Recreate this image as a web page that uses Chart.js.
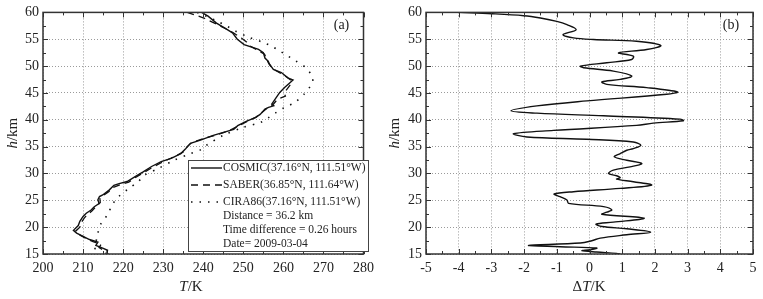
<!DOCTYPE html>
<html lang="en">
<head>
  <meta charset="UTF-8">
  <title>COSMIC / SABER / CIRA86 temperature profiles</title>
  <script src="https://cdn.jsdelivr.net/npm/chart.js"></script>
  <style>
    body { margin: 0; background: #fff; }
    .wrap { position: relative; width: 763px; height: 299px; }
    #chartA { position: absolute; left: 0; top: 0; }
    #chartB { position: absolute; left: 380px; top: 0; }
  </style>
</head>
<body>
  <div class="wrap">
    <canvas id="chartA" width="380" height="299"></canvas>
    <canvas id="chartB" width="383" height="299"></canvas>
  </div>

  <script>
    // panel (a): temperature profiles, height in km / temperature in K
    const hCosmic = [60, 59.3, 58, 57.1, 56.2, 55, 54, 53.1, 52.5, 51.5, 50.9, 50.3, 49.4, 48.8, 47.8, 47.4, 46.8, 46, 45.1, 43.8, 42.9, 42.6, 42.3, 42, 41, 40.4, 39.8, 38.9, 38.2, 37.1, 36.2, 35.6, 34.6, 33.7, 32.8, 32.2, 31.3, 30.3, 29.4, 28.5, 28.1, 27.8, 26.9, 26, 25.7, 25.1, 24.4, 23.8, 23.2, 22.6, 22, 21.1, 20.3, 19.4, 18.9, 18.3, 17.7, 17.2, 16.6, 16.1, 15.7, 15.2, 15];
    const tCosmic = [239.6, 241.2, 243.3, 245.3, 247.3, 248.5, 250.2, 253.8, 255, 255.4, 256.2, 256.6, 257.5, 259.5, 261.1, 262.4, 261.5, 260.3, 259.1, 257.9, 257.1, 257.6, 256.3, 255.4, 254.2, 253, 251, 248.6, 247.6, 242.5, 239.3, 236.8, 235.6, 234.4, 232, 229.5, 227.1, 225, 223, 221, 219, 217.7, 216.5, 214.9, 214.1, 213.7, 214, 212.8, 212, 210.8, 210, 209.2, 208.8, 207.6, 208.4, 210, 211.6, 213.7, 213.2, 214.9, 216.1, 216, 216.3];

    const hSaber = [60, 59.5, 59, 58, 57, 56.2, 55.2, 54.5, 53.8, 53, 52.2, 51.3, 50.4, 49.5, 48.6, 48, 47.4, 46.8, 46, 45, 44.4, 43.8, 42.8, 42.2, 41.2, 40.5, 39.8, 38.8, 38, 37.2, 36.5, 35.8, 35, 34, 33.4, 32.6, 32, 31.2, 30.2, 29.3, 28.4, 27.9, 27.4, 26.6, 25.9, 25.3, 24.6, 23.8, 23, 22.3, 21.6, 20.8, 20, 19.3, 18.7, 18, 17.3, 16.8, 16.2, 15.6, 15];
    const tSaber = [236, 238, 240, 242.8, 245.5, 247.5, 249.6, 250.8, 251.5, 253.5, 255.3, 255.8, 256.4, 257.3, 259.4, 260.8, 261.8, 262, 261.2, 260.2, 260.5, 258.5, 257.4, 256, 254.4, 253.2, 251.2, 248.6, 246.5, 243.5, 240, 237.2, 236, 235, 233.5, 231.2, 229.5, 227.5, 225.2, 223.2, 221.4, 219.2, 217.5, 216.4, 215, 214.2, 214.3, 213.2, 212.2, 211, 210.2, 209.5, 209.2, 208.2, 208.8, 210.5, 212.5, 214.5, 214, 215.4, 215.8];

    const hCira = [60, 59.2, 58.3, 57.4, 56.5, 55.5, 54.4, 53.7, 52.8, 51.9, 50.9, 49.7, 48.1, 47, 46.3, 44.8, 43.2, 42.3, 41.4, 40.4, 39.5, 38.6, 37.1, 35.3, 34.4, 33.7, 32.5, 30.9, 29.7, 28.5, 27.2, 25.7, 24.2, 22.3, 20.7, 18.9, 17.1, 15];
    const tCira = [238.5, 241, 243.7, 246, 248.1, 251, 255, 257.1, 259.1, 261.1, 263.2, 265.6, 267.2, 267.3, 266.8, 265.2, 262.8, 260.3, 258.3, 256.3, 254.3, 250, 245, 240.9, 239.3, 236.8, 232.8, 228.7, 225.4, 223.8, 221.4, 218.9, 217.3, 216.1, 214.5, 213.7, 213.2, 212.8];

    // panel (b): temperature difference
    const hDiff = [60, 59.75, 59.38, 58.95, 58.33, 57.72, 56.79, 55.86, 55.25, 54.94, 54.63, 53.83, 53.09, 52.47, 51.85, 51.23, 50.62, 50, 49.69, 49.07, 48.15, 47.53, 47.04, 46.6, 45.99, 45.19, 44.75, 43.52, 42.59, 41.67, 41.23, 40.74, 40.12, 39.81, 39.38, 38.95, 38.02, 37.41, 36.79, 36.36, 35.86, 35.25, 34.63, 34.32, 33.7, 33.09, 32.47, 31.85, 31.23, 30.62, 30, 29.57, 29.2, 28.95, 28.46, 27.84, 27.22, 26.6, 26.17, 25.68, 25.06, 24.44, 23.83, 23.21, 22.78, 22.41, 21.67, 20.93, 20.56, 20.12, 19.69, 19.07, 18.58, 17.96, 17.47, 17.04, 16.6, 16.36, 16.11, 15.8, 15.62, 15.37, 15.12, 15];
    const dT = [-4, -2.98, -2.01, -1.5, -1, -0.69, -0.41, -0.81, -0.49, 0.12, 1.44, 2.18, 1.75, 0.89, 1.34, 1.29, 0.53, -0.28, -0.18, 0.73, 1.29, 0.94, 0.38, 0.53, 1.75, 2.69, 2.36, -0.08, -1.61, -2.4, -1.61, 0.43, 2.77, 2.87, 1.95, 1.44, -1.1, -2.32, -1.91, -0.08, 1.34, 1.57, 1.34, 1.14, 0.94, 0.76, 1.14, 1.6, 1.24, 0.73, 0.58, 0.83, 0.94, 0.83, 1.34, 1.9, 0.94, -0.49, -1.08, -0.9, -0.69, -0.64, 0.43, 0.68, 0.53, 0.38, 1.67, 0.73, 0.2, 0.38, 1.14, 1.87, 1.14, 0.33, 0.07, -0.28, -1.86, -0.9, 0.22, 0.02, -0.23, 0.22, 0.83, 0.94];

    const legendLines = [
      'COSMIC(37.16°N, 111.51°W)',
      'SABER(36.85°N, 111.64°W)',
      'CIRA86(37.16°N, 111.51°W)'
    ];
    const legendNotes = ['Distance = 36.2 km', 'Time difference = 0.26 hours', 'Date= 2009-03-04'];

    const SERIF = '"Liberation Serif", "DejaVu Serif", serif';

    function pts(xs, ys) {
      return xs.map((v, i) => ({ x: v, y: ys[i] }));
    }

    // draws frame, inward ticks, axis titles, panel letter (and legend for panel a)
    function framePlugin(cfg) {
      return {
        id: 'frame',
        afterDraw(chart) {
          const ctx = chart.ctx;
          const a = chart.chartArea;
          const xs = chart.scales.x, ys = chart.scales.y;
          ctx.save();
          ctx.strokeStyle = '#333';
          ctx.lineWidth = 1;
          // ticks
          ctx.beginPath();
          for (let v = xs.min; v <= xs.max + 1e-9; v += cfg.xMinor) {
            const px = Math.round(xs.getPixelForValue(v)) + 0.5;
            const major = Math.abs(v / cfg.xMajor - Math.round(v / cfg.xMajor)) < 1e-6;
            const len = major ? 5 : 3;
            ctx.moveTo(px, a.bottom); ctx.lineTo(px, a.bottom - len);
            ctx.moveTo(px, a.top); ctx.lineTo(px, a.top + len);
          }
          for (let v = ys.min; v <= ys.max + 1e-9; v += 2.5) {
            const py = Math.round(ys.getPixelForValue(v)) + 0.5;
            const len = (v % 5 === 0) ? 5 : 3;
            ctx.moveTo(a.left, py); ctx.lineTo(a.left + len, py);
            ctx.moveTo(a.right, py); ctx.lineTo(a.right - len, py);
          }
          ctx.stroke();
          // frame
          ctx.lineWidth = 1.5;
          ctx.strokeRect(a.left, a.top, a.right - a.left, a.bottom - a.top);

          ctx.fillStyle = '#222';
          ctx.textBaseline = 'middle';
          // x title (italic variable + unit)
          const drawMixed = (parts, cx, cy) => {
            let w = 0;
            parts.forEach(p => { ctx.font = p[1] + ' 15px ' + SERIF; w += ctx.measureText(p[0]).width; });
            let x = cx - w / 2;
            ctx.textAlign = 'left';
            parts.forEach(p => {
              ctx.font = p[1] + ' 15px ' + SERIF;
              ctx.fillText(p[0], x, cy);
              x += ctx.measureText(p[0]).width;
            });
          };
          drawMixed(cfg.xTitle, cfg.xTitleX, 287);
          ctx.save();
          ctx.translate(cfg.yTitleX, (a.top + a.bottom) / 2);
          ctx.rotate(-Math.PI / 2);
          drawMixed([['h', 'italic'], ['/km', 'normal']], 0, 0);
          ctx.restore();

          // panel letter
          ctx.font = '14px ' + SERIF;
          ctx.textAlign = 'center';
          ctx.fillText(cfg.letter, a.right - 22, 25);

          if (cfg.legend) {
            const bx = 188, by = 160, bw = 180, bh = 91;
            ctx.fillStyle = '#fff';
            ctx.fillRect(bx, by, bw, bh);
            ctx.lineWidth = 1;
            ctx.strokeStyle = '#444';
            ctx.strokeRect(bx + 0.5, by + 0.5, bw, bh);
            const dashes = [[], [7, 5], [1.5, 7]];
            ctx.font = '11.5px ' + SERIF;
            ctx.textAlign = 'left';
            legendLines.forEach((t, i) => {
              const y = 168 + i * 17;
              ctx.strokeStyle = '#111';
              ctx.lineWidth = 1.4;
              ctx.setLineDash(dashes[i]);
              ctx.beginPath();
              ctx.moveTo(191, y); ctx.lineTo(222, y);
              ctx.stroke();
              ctx.setLineDash([]);
              ctx.fillStyle = '#222';
              ctx.fillText(t, 223, y);
            });
            legendNotes.forEach((t, i) => {
              ctx.fillText(t, 223, 216 + i * 14);
            });
          }
          ctx.restore();
        }
      };
    }

    function makeOptions(xMin, xMax, xStep, yWidth, padRight) {
      return {
        responsive: false,
        animation: false,
        layout: { padding: { top: 11, right: padRight, left: 0, bottom: 0 } },
        plugins: { legend: { display: false }, tooltip: { enabled: false } },
        scales: {
          x: {
            type: 'linear', min: xMin, max: xMax,
            ticks: { stepSize: xStep, color: '#222', padding: 6, font: { family: SERIF, size: 14 } },
            grid: { color: '#9a9a9a', lineWidth: 1, drawTicks: false },
            border: { display: false, dash: [1, 2] },
            afterFit(s) { s.height = 45; }
          },
          y: {
            type: 'linear', min: 15, max: 60,
            ticks: { stepSize: 5, color: '#222', padding: 4, font: { family: SERIF, size: 14 } },
            grid: { color: '#9a9a9a', lineWidth: 1, drawTicks: false },
            border: { display: false, dash: [1, 2] },
            afterFit(s) { s.width = yWidth; }
          }
        }
      };
    }

    new Chart(document.getElementById('chartA'), {
      type: 'scatter',
      data: {
        datasets: [
          { label: 'COSMIC', data: pts(tCosmic, hCosmic), showLine: true, pointRadius: 0, borderColor: '#111', borderWidth: 1.4 },
          { label: 'SABER', data: pts(tSaber, hSaber), showLine: true, pointRadius: 0, borderColor: '#111', borderWidth: 1.3, borderDash: [7, 5] },
          { label: 'CIRA86', data: pts(tCira, hCira), showLine: true, pointRadius: 0, borderColor: '#111', borderWidth: 1.6, borderDash: [1.5, 7], tension: 0.3 }
        ]
      },
      options: makeOptions(200, 280, 10, 43, 9),
      plugins: [framePlugin({ xMinor: 5, xMajor: 10, letter: '(a)', legend: true, xTitle: [['T', 'italic'], ['/K', 'normal']], xTitleX: 191, yTitleX: 13 })]
    });

    new Chart(document.getElementById('chartB'), {
      type: 'scatter',
      data: {
        datasets: [
          { label: 'dT', data: pts(dT, hDiff), showLine: true, pointRadius: 0, borderColor: '#111', borderWidth: 1.4, tension: 0.35 }
        ]
      },
      options: makeOptions(-5, 5, 1, 46, 10),
      plugins: [framePlugin({ xMinor: 0.5, xMajor: 1, letter: '(b)', legend: false, xTitle: [['Δ', 'normal'], ['T', 'italic'], ['/K', 'normal']], xTitleX: 209, yTitleX: 15 })]
    });
  </script>
</body>
</html>
